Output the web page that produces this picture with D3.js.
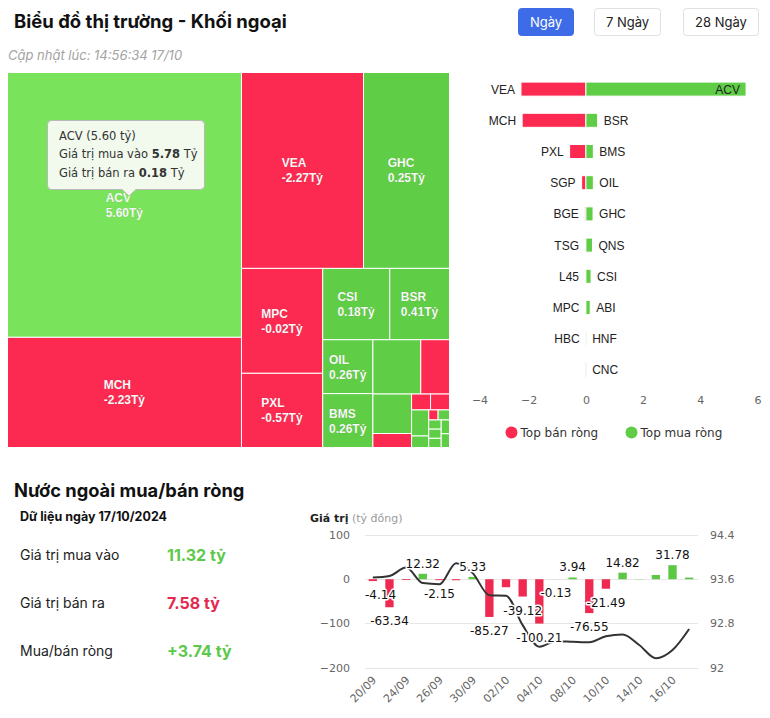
<!doctype html>
<html lang="vi">
<head>
<meta charset="utf-8">
<title>Biểu đồ thị trường - Khối ngoại</title>
<script src="https://cdn.jsdelivr.net/npm/d3@7"></script>
<style>
  body { margin: 0; background: #fff; }
  svg text { font-family: "DejaVu Sans", Verdana, sans-serif; }
  .ui { font-family: Inter, Roboto, sans-serif !important; }
  .arial { font-family: "Liberation Sans", Arial, sans-serif !important; }
</style>
</head>
<body>
<svg id="chart" width="770" height="718"></svg>
<script>
// ---- treemap: total traded value (tỷ) sets the size, net value sets the colour
var tmNames  = ["ACV","MCH","VEA","GHC","MPC","PXL","CSI","BSR","OIL","BMS","QNS","SGP","ABI","BGE","TSG","L45","HNF","CNC","HBC","","","","","",""];
var tmTotal  = [5.96,2.48,2.30,1.62,0.82,0.58,0.46,0.41,0.26,0.26,0.25,0.15,0.147,0.052,0.029,0.029,0.043,0.019,0.009,0.011,0.011,0.011,0.011,0.011,0.011];
var tmNet    = [5.60,-2.23,-2.27,0.25,-0.02,-0.57,0.18,0.41,0.26,0.26,0.23,-0.15,0.15,-0.04,-0.03,-0.03,0.01,0.01,-0.01,0.01,0.01,0.01,0.01,0.01,0.01];
var tmLabeled = ["ACV","MCH","VEA","GHC","MPC","PXL","CSI","BSR","OIL","BMS"];

// ---- top buy / sell bars
var sellNames  = ["VEA","MCH","PXL","SGP","BGE","TSG","L45","MPC","HBC"];
var sellValues = [-2.27,-2.23,-0.57,-0.15,-0.04,-0.03,-0.03,-0.02,-0.01];
var buyNames   = ["ACV","BSR","BMS","OIL","GHC","QNS","CSI","ABI","HNF","CNC"];
var buyValues  = [5.60,0.41,0.26,0.26,0.25,0.23,0.18,0.15,0.01,0.01];
var barTicks   = [-4,-2,0,2,4,6];

// ---- net buy/sell per day + index line
var days = ["20/09","23/09","24/09","25/09","26/09","27/09","30/09","01/10","02/10","03/10",
            "04/10","07/10","08/10","09/10","10/10","11/10","14/10","15/10","16/10","17/10"];
var netValues = [-4.14,-63.34,-1.8,12.32,-2.15,-2.3,5.33,-85.27,-18,-39.12,
                 -100.21,-0.13,3.94,-76.55,-21.49,14.82,0.5,9.5,31.78,3.74];
var showLabel = [1,1,0,1,1,0,1,1,0,1, 1,1,1,1,1,1,0,0,1,0];
var indexValues = [93.63,93.66,93.81,93.53,93.51,93.89,93.71,93.31,93.30,92.77,
                   92.38,92.48,92.47,92.46,92.57,92.60,92.41,92.17,92.32,92.70];
var leftTicks  = [-200,-100,0,100];
var rightTicks = [92,92.8,93.6,94.4];

var summaryLabels = ["Giá trị mua vào","Giá trị bán ra","Mua/bán ròng"];
var summaryValues = [11.32, 7.58, 3.74];

var RED = "#fc2a50", GREEN = "#5fcd46", GREEN_TOP = "#79e45b";

var svg = d3.select("#chart");
svg.append("rect").attr("width",770).attr("height",718).attr("fill","#fff");

// header
svg.append("text").attr("class","ui").attr("x",14).attr("y",28)
  .attr("font-size",18.5).attr("font-weight",700).attr("fill","#111")
  .text("Biểu đồ thị trường - Khối ngoại");
svg.append("text").attr("class","ui").attr("x",8).attr("y",60)
  .attr("font-size",13).attr("font-style","italic").attr("fill","#a3a3a3")
  .text("Cập nhật lúc: 14:56:34 17/10");

var buttons = [{t:"Ngày",x:518.5,w:55,on:true},{t:"7 Ngày",x:594.5,w:66},{t:"28 Ngày",x:683.5,w:75}];
buttons.forEach(function(b){
  svg.append("rect").attr("x",b.x).attr("y",8.5).attr("width",b.w).attr("height",27).attr("rx",3)
    .attr("fill", b.on ? "#3e6ce8" : "#fff").attr("stroke", b.on ? "#3e6ce8" : "#e0e0e0");
  svg.append("text").attr("class","ui").attr("x",b.x+b.w/2).attr("y",26.5).attr("text-anchor","middle")
    .attr("font-size",13).attr("fill", b.on ? "#fff" : "#222").text(b.t);
});

// ---------- treemap (squarified, direction alternating each group)
function hcSquarified(parent, x0, y0, x1, y1) {
  var kids = parent.children, k = (x1-x0)*(y1-y0)/parent.value;
  var vertical = true, gw = x1-x0, gh = y1-y0, px = x0, py = y0, i = 0;
  function ratio(a,b){ return Math.max(a/b, b/a); }
  while (i < kids.length) {
    var grp = [kids[i]], tot = kids[i].value*k, j = i+1;
    var side = vertical ? gh : gw;
    while (j < kids.length) {
      var last = kids[j-1].value*k;
      var t0 = tot/side, t1 = (tot + kids[j].value*k)/side;
      if (ratio(t1, last/t1) > ratio(t0, last/t0)) break;
      tot += kids[j].value*k; grp.push(kids[j]); j++;
    }
    var thick = tot/side;
    grp.forEach(function(c){
      var a = c.value*k;
      if (vertical) { c.x0 = px; c.x1 = px+thick; c.y0 = py; c.y1 = py + a/thick; py = c.y1; }
      else { c.y0 = py; c.y1 = py+thick; c.x0 = px; c.x1 = px + a/thick; px = c.x1; }
    });
    if (vertical) gw -= thick; else gh -= thick;
    px = x1-gw; py = y1-gh;
    vertical = !vertical;
    i = j;
  }
}

var tmData = tmNames.map(function(n,i){ return {name:n, total:tmTotal[i], net:tmNet[i]}; });
var root = d3.hierarchy({children: tmData}).sum(function(d){ return d.total || 0; });
d3.treemap().tile(hcSquarified).size([442,375])(root);

var gt = svg.append("g").attr("transform","translate(7.5,72.5)");
var cells = gt.selectAll("g").data(root.leaves()).join("g");
cells.append("rect")
  .attr("x",function(d){ return d.x0; }).attr("y",function(d){ return d.y0; })
  .attr("width",function(d){ return d.x1-d.x0; }).attr("height",function(d){ return d.y1-d.y0; })
  .attr("fill",function(d){ return d.data.net < 0 ? RED : (d.data.name === "ACV" ? GREEN_TOP : GREEN); })
  .attr("stroke","#fff").attr("stroke-width",1);
cells.filter(function(d){ return tmLabeled.indexOf(d.data.name) >= 0; }).each(function(d){
  var g = d3.select(this), cx = (d.x0+d.x1)/2, cy = (d.y0+d.y1)/2;
  var t = g.append("text").attr("class","arial").attr("font-size",12).attr("font-weight",700)
    .attr("fill","#fff").attr("stroke","rgba(0,0,0,0.12)").attr("stroke-width",0.6);
  t.append("tspan").attr("x",0).attr("y",cy-3).text(d.data.name);
  t.append("tspan").attr("x",0).attr("y",cy+12).text(d.data.net.toFixed(2)+"Tỷ");
  var w = t.node().getBBox().width;
  t.selectAll("tspan").attr("x",cx-w/2);
});

// tooltip over ACV
var tip = svg.append("g");
tip.append("path")
  .attr("d","M51.5,120.5 H200.5 Q204.5,120.5 204.5,124.5 V185.5 Q204.5,189.5 200.5,189.5 H136 L129,196 L122,189.5 H51.5 Q47.5,189.5 47.5,185.5 V124.5 Q47.5,120.5 51.5,120.5 Z")
  .attr("fill","#f2faee").attr("stroke","#b8b8b8").attr("stroke-width",1);
var tipLines = [[["ACV (5.60 tỷ)",400]],[["Giá trị mua vào ",400],["5.78",700],[" Tỷ",400]],[["Giá trị bán ra ",400],["0.18",700],[" Tỷ",400]]];
tipLines.forEach(function(line,i){
  var t = tip.append("text").attr("x",59).attr("y",140+i*18.3).attr("font-size",11.5).attr("fill","#333");
  line.forEach(function(p){ t.append("tspan").attr("font-weight",p[1]).text(p[0]); });
});

// ---------- top buy / sell bar chart
var xb = d3.scaleLinear().domain([-4,6]).range([471.5,757.5]);
var yb = d3.scaleBand().domain(d3.range(buyNames.length)).range([73.5,385.5]).paddingInner(0.55).paddingOuter(0.275);
var gb = svg.append("g");
gb.selectAll("line").data(d3.range(buyNames.length)).join("line")
  .attr("x1",xb(0)).attr("x2",xb(0)).attr("y1",function(i){ return yb(i); })
  .attr("y2",function(i){ return yb(i)+yb.bandwidth(); }).attr("stroke","#dcdcdc");
gb.selectAll("rect.sell").data(sellValues).join("rect").attr("class","sell")
  .attr("x",function(d){ return xb(d); }).attr("width",function(d){ return xb(0)-xb(d); })
  .attr("y",function(d,i){ return yb(i); }).attr("height",yb.bandwidth())
  .attr("fill",RED).attr("stroke","#fff").attr("stroke-width",1);
gb.selectAll("rect.buy").data(buyValues).join("rect").attr("class","buy")
  .attr("x",xb(0)).attr("width",function(d){ return xb(d)-xb(0); })
  .attr("y",function(d,i){ return yb(i); }).attr("height",yb.bandwidth())
  .attr("fill",GREEN).attr("stroke","#fff").attr("stroke-width",1);
gb.selectAll("text.sell").data(sellValues).join("text").attr("class","sell arial")
  .attr("x",function(d){ return Math.min(xb(d), xb(0)) - 6; })
  .attr("y",function(d,i){ return yb(i)+yb.bandwidth()/2+4.5; })
  .attr("text-anchor","end").attr("font-size",12).attr("fill","#222")
  .text(function(d,i){ return sellNames[i]; });
gb.selectAll("text.buy").data(buyValues).join("text").attr("class","buy arial")
  .attr("y",function(d,i){ return yb(i)+yb.bandwidth()/2+4.5; })
  .attr("font-size",12).attr("fill","#222")
  .text(function(d,i){ return buyNames[i]; })
  .each(function(d){
    var t = d3.select(this), w = this.getComputedTextLength();
    if (xb(d)+6+w > xb.range()[1]) t.attr("x",xb(d)-6).attr("text-anchor","end");
    else t.attr("x",Math.max(xb(d),xb(0))+6).attr("text-anchor","start");
  });
var axB = svg.append("g").attr("transform","translate(0,392)")
  .call(d3.axisBottom(xb).tickValues(barTicks).tickSize(0).tickPadding(4));
axB.select(".domain").remove();
axB.selectAll("text").attr("font-size",11).attr("fill","#666").attr("font-family",null)
  .attr("dx",function(d){ return d === barTicks[0] ? 8 : 0; });

var legend = [{t:"Top bán ròng",c:RED,x:511.5},{t:"Top mua ròng",c:GREEN,x:631.5}];
legend.forEach(function(l){
  svg.append("circle").attr("cx",l.x).attr("cy",432.5).attr("r",6).attr("fill",l.c);
  svg.append("text").attr("x",l.x+9).attr("y",437).attr("font-size",12).attr("fill","#333").text(l.t);
});

// ---------- summary (bottom left)
svg.append("text").attr("class","ui").attr("x",14).attr("y",497)
  .attr("font-size",18.3).attr("font-weight",700).attr("fill","#111").text("Nước ngoài mua/bán ròng");
svg.append("text").attr("class","ui").attr("x",20).attr("y",520.5)
  .attr("font-size",12.5).attr("font-weight",700).attr("fill","#111").text("Dữ liệu ngày 17/10/2024");
summaryLabels.forEach(function(lab,i){
  var y = 560 + i*48;
  svg.append("text").attr("class","ui").attr("x",20).attr("y",y).attr("font-size",14).attr("fill","#222").text(lab);
  var v = summaryValues[i];
  svg.append("text").attr("class","ui").attr("x",167).attr("y",y+1)
    .attr("font-size",16).attr("font-weight",700)
    .attr("fill", i === 1 ? "#e5284e" : "#5cc94b")
    .text((i === 2 && v > 0 ? "+" : "") + v.toFixed(2) + " tỷ");
});

// ---------- net buy/sell combo chart
var xd = d3.scaleBand().domain(days).range([364.5,697.5]).paddingInner(0.5).paddingOuter(0.25);
var yL = d3.scaleLinear().domain([-200,100]).range([667.7,535]);
var yR = d3.scaleLinear().domain([92,94.4]).range([667.7,535]);
var bw = xd.bandwidth();

var tt = svg.append("text").attr("x",310).attr("y",522).attr("font-size",11);
tt.append("tspan").attr("font-weight",700).attr("fill","#222").text("Giá trị");
tt.append("tspan").attr("fill","#999").text(" (tỷ đồng)");

svg.append("g").selectAll("line").data(leftTicks).join("line")
  .attr("x1",365).attr("x2",698)
  .attr("y1",function(d){ return Math.round(yL(d))+0.5; }).attr("y2",function(d){ return Math.round(yL(d))+0.5; })
  .attr("stroke","#e6e6e6");

var axL = svg.append("g").attr("transform","translate(365,0)")
  .call(d3.axisLeft(yL).tickValues(leftTicks).tickSize(0).tickPadding(15).tickFormat(d3.format("~g")));
var axR = svg.append("g").attr("transform","translate(698,0)")
  .call(d3.axisRight(yR).tickValues(rightTicks).tickSize(0).tickPadding(12).tickFormat(d3.format("~g")));
[axL, axR].forEach(function(a){
  a.select(".domain").remove();
  a.selectAll("text").attr("font-size",11).attr("fill","#666").attr("font-family",null);
});
var axX = svg.append("g").attr("transform","translate(1.5,678)")
  .call(d3.axisBottom(xd).tickValues(days.filter(function(d,i){ return i % 2 === 0; })).tickSize(0));
axX.select(".domain").remove();
axX.selectAll("text").attr("font-size",11).attr("fill","#666").attr("font-family",null)
  .attr("y",0).attr("dy","0.35em").attr("text-anchor","end").attr("transform","rotate(-45)");

svg.append("g").selectAll("rect").data(netValues).join("rect")
  .attr("x",function(d,i){ return xd(days[i]); }).attr("width",bw)
  .attr("y",function(d){ return Math.min(yL(d),yL(0)); })
  .attr("height",function(d){ return Math.abs(yL(d)-yL(0)); })
  .attr("fill",function(d){ return d < 0 ? "#ee2a50" : "#5cc645"; });

svg.append("path").datum(indexValues)
  .attr("fill","none").attr("stroke","#333").attr("stroke-width",2)
  .attr("d", d3.line()
    .x(function(d,i){ return xd(days[i]) + bw/2; })
    .y(function(d){ return yR(d); })
    .curve(d3.curveMonotoneX));

svg.append("g").selectAll("text").data(netValues).join("text")
  .filter(function(d,i){ return showLabel[i]; })
  .attr("font-size",12).attr("fill","#111").attr("text-anchor","middle")
  .attr("stroke","#fff").attr("stroke-width",3).attr("stroke-linejoin","round").attr("paint-order","stroke")
  .attr("y",function(d){ return d < 0 ? yL(d)+18 : yL(d)-6; })
  .text(function(d){ return d.toFixed(2); })
  .each(function(d){
    var i = netValues.indexOf(d), w = this.getComputedTextLength();
    var cx = xd(days[i]) + bw/2;
    cx = Math.max(365 + w/2, Math.min(698 - w/2, cx));
    d3.select(this).attr("x",cx);
  });
</script>
</body>
</html>
